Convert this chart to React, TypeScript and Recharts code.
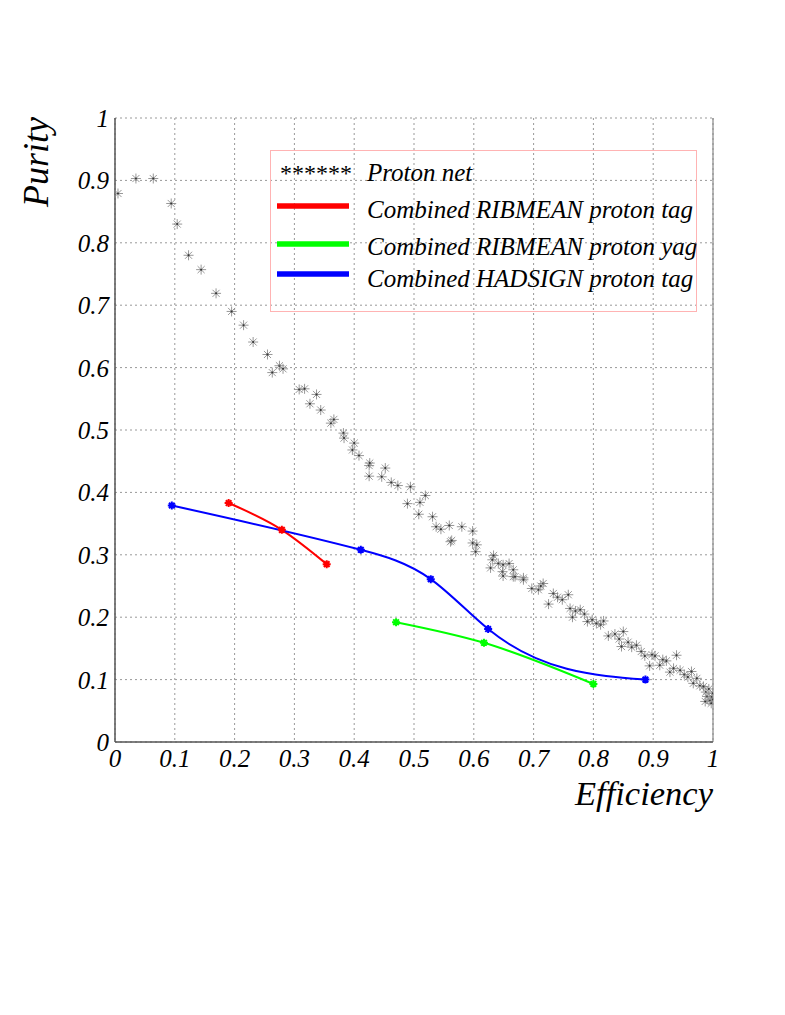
import React from 'react';
import {
  ComposedChart,
  Scatter,
  Line,
  XAxis,
  YAxis,
  CartesianGrid,
  ReferenceLine,
} from 'recharts';

// Proton net scan: [efficiency, purity]
const protonNet: [number, number][] = [
  [0.005, 0.879], [0.035, 0.903], [0.064, 0.903], [0.094, 0.863], [0.104, 0.83],
  [0.123, 0.78], [0.144, 0.757], [0.169, 0.719], [0.195, 0.69], [0.215, 0.668],
  [0.231, 0.641], [0.255, 0.621], [0.263, 0.592], [0.275, 0.603], [0.281, 0.598],
  [0.308, 0.565], [0.317, 0.566], [0.326, 0.542], [0.337, 0.557], [0.344, 0.532],
  [0.361, 0.511], [0.366, 0.517], [0.382, 0.495], [0.383, 0.487], [0.397, 0.468],
  [0.4, 0.479], [0.408, 0.459], [0.425, 0.443], [0.426, 0.447], [0.425, 0.426],
  [0.446, 0.425], [0.452, 0.439], [0.462, 0.416], [0.473, 0.411], [0.489, 0.382],
  [0.494, 0.409], [0.508, 0.365], [0.51, 0.384], [0.519, 0.395], [0.531, 0.361],
  [0.537, 0.345], [0.545, 0.341], [0.559, 0.347], [0.561, 0.321], [0.563, 0.323],
  [0.58, 0.345], [0.598, 0.338], [0.598, 0.319], [0.603, 0.305], [0.605, 0.316],
  [0.628, 0.279], [0.631, 0.292], [0.633, 0.299], [0.641, 0.286], [0.648, 0.273],
  [0.649, 0.284], [0.649, 0.266], [0.659, 0.286], [0.666, 0.276], [0.666, 0.265],
  [0.669, 0.265], [0.683, 0.263], [0.683, 0.26], [0.697, 0.246], [0.708, 0.244],
  [0.716, 0.254], [0.712, 0.25], [0.725, 0.221], [0.733, 0.238], [0.74, 0.232],
  [0.748, 0.228], [0.758, 0.236], [0.761, 0.214], [0.765, 0.2], [0.77, 0.21],
  [0.778, 0.212], [0.785, 0.205], [0.79, 0.193], [0.798, 0.196], [0.805, 0.19],
  [0.812, 0.188], [0.817, 0.194], [0.825, 0.17], [0.836, 0.173], [0.843, 0.165],
  [0.847, 0.153], [0.85, 0.177], [0.858, 0.16], [0.864, 0.152], [0.872, 0.155],
  [0.88, 0.145], [0.886, 0.138], [0.894, 0.122], [0.898, 0.14], [0.903, 0.138],
  [0.911, 0.123], [0.916, 0.132], [0.922, 0.13], [0.928, 0.112], [0.934, 0.118],
  [0.939, 0.139], [0.945, 0.115], [0.952, 0.108], [0.958, 0.104], [0.964, 0.113],
  [0.967, 0.094], [0.973, 0.102], [0.978, 0.09], [0.984, 0.089], [0.987, 0.065],
  [0.988, 0.08], [0.99, 0.073], [0.993, 0.085], [0.995, 0.067], [0.997, 0.062],
  [0.998, 0.072], [1.0, 0.078], [1.0, 0.068],
];

const ribmeanTagEff = [0.19, 0.279, 0.354];
const ribmeanTagPur = [0.383, 0.34, 0.285];

const ribmeanYagEff = [0.47, 0.617, 0.8];
const ribmeanYagPur = [0.192, 0.159, 0.093];

const hadsignEff = [0.095, 0.411, 0.528, 0.624, 0.887];
const hadsignPur = [0.379, 0.308, 0.261, 0.181, 0.1];

const ticks = [0, 0.1, 0.2, 0.3, 0.4, 0.5, 0.6, 0.7, 0.8, 0.9, 1];

const legendNames = [
  'Proton net',
  'Combined RIBMEAN proton tag',
  'Combined RIBMEAN proton yag',
  'Combined HADSIGN proton tag',
];

const toPoints = (xs: number[], ys: number[]) => xs.map((x, i) => ({ x, y: ys[i] }));

const protonData = protonNet.map(([x, y]) => ({ x, y }));
const redData = toPoints(ribmeanTagEff, ribmeanTagPur);
const greenData = toPoints(ribmeanYagEff, ribmeanYagPur);
const blueData = toPoints(hadsignEff, hadsignPur);

const FONT = 'Liberation Serif, Times New Roman, DejaVu Serif, serif';

const fmt = (v: number) => (v === 0 ? '0' : v === 1 ? '1' : String(v));

// natural cubic spline y(x), like the smoothed graphs of the original plot
const splineCurve = (context: any) => {
  let xs: number[] = [];
  let ys: number[] = [];
  return {
    areaStart() {},
    areaEnd() {},
    lineStart() {
      xs = [];
      ys = [];
    },
    point(x: number, y: number) {
      xs.push(+x);
      ys.push(+y);
    },
    lineEnd() {
      const n = xs.length;
      if (n === 0) return;
      context.moveTo(xs[0], ys[0]);
      if (n < 3) {
        for (let i = 1; i < n; i++) context.lineTo(xs[i], ys[i]);
        return;
      }
      const h: number[] = [];
      for (let i = 0; i < n - 1; i++) h.push(xs[i + 1] - xs[i]);
      const M = new Array(n).fill(0);
      const a: number[] = [], b: number[] = [], c: number[] = [], r: number[] = [];
      for (let i = 1; i < n - 1; i++) {
        a.push(h[i - 1]);
        b.push(2 * (h[i - 1] + h[i]));
        c.push(h[i]);
        r.push(6 * ((ys[i + 1] - ys[i]) / h[i] - (ys[i] - ys[i - 1]) / h[i - 1]));
      }
      const m = b.length;
      for (let i = 1; i < m; i++) {
        const w = a[i] / b[i - 1];
        b[i] -= w * c[i - 1];
        r[i] -= w * r[i - 1];
      }
      const sol = new Array(m).fill(0);
      sol[m - 1] = r[m - 1] / b[m - 1];
      for (let i = m - 2; i >= 0; i--) sol[i] = (r[i] - c[i] * sol[i + 1]) / b[i];
      for (let i = 0; i < m; i++) M[i + 1] = sol[i];
      for (let i = 0; i < n - 1; i++) {
        const hi = h[i];
        const s = (ys[i + 1] - ys[i]) / hi;
        const d0 = s - (hi * (2 * M[i] + M[i + 1])) / 6;
        const d1 = s + (hi * (M[i] + 2 * M[i + 1])) / 6;
        context.bezierCurveTo(
          xs[i] + hi / 3,
          ys[i] + (d0 * hi) / 3,
          xs[i + 1] - hi / 3,
          ys[i + 1] - (d1 * hi) / 3,
          xs[i + 1],
          ys[i + 1],
        );
      }
    },
  };
};

const asteriskPath = (cx: number, cy: number, r: number) => {
  const d = r * 0.707;
  return `M${cx - r},${cy}H${cx + r}M${cx},${cy - r}V${cy + r}M${cx - d},${cy - d}L${cx + d},${cy + d}M${cx - d},${cy + d}L${cx + d},${cy - d}`;
};

const GreyStar = (props: any) => {
  const { cx, cy } = props;
  if (cx == null || cy == null) return null;
  return (
    <g>
      <path d={asteriskPath(cx, cy, 5)} stroke="#8c8c8c" strokeWidth={0.9} fill="none" />
      <circle cx={cx} cy={cy} r={1} fill="#333" />
    </g>
  );
};

const makeDot = (color: string) => (props: any) => {
  const { cx, cy, index } = props;
  if (cx == null || cy == null) return <g key={index} />;
  return (
    <g key={index}>
      <path d={asteriskPath(cx, cy, 4)} stroke={color} strokeWidth={2} fill="none" />
      <rect x={cx - 2} y={cy - 2} width={4} height={4} fill={color} />
    </g>
  );
};

const textStyle = { fontFamily: FONT, fontStyle: 'italic' as const };

const XTick = (props: any) => {
  const { x, y, payload } = props;
  return (
    <text x={x} y={y} dy={17} textAnchor="middle" fontSize={25} fill="#000" style={textStyle}>
      {fmt(payload.value)}
    </text>
  );
};

const YTick = (props: any) => {
  const { x, y, payload } = props;
  return (
    <text x={x + 2} y={y} dy={9} textAnchor="end" fontSize={25} fill="#000" style={textStyle}>
      {fmt(payload.value)}
    </text>
  );
};

const LegendBox = () => {
  const lineColors = ['#ff0000', '#00ff00', '#0000ff'];
  const baselines = [31, 68, 105, 137];
  const lineY = [56, 94, 124];
  return (
    <svg
      width={428}
      height={164}
      style={{ position: 'absolute', left: 262, top: 142, overflow: 'visible' }}
    >
      <rect x={0.5} y={0.5} width={426} height={161} fill="none" stroke="#ffb3b3" strokeWidth={1} />
      <text x={10} y={baselines[0]} fontSize={24} fill="#000" style={{ fontFamily: FONT }}>
        ******
      </text>
      {lineColors.map((c, i) => (
        <line key={c} x1={7} x2={79} y1={lineY[i]} y2={lineY[i]} stroke={c} strokeWidth={5.5} />
      ))}
      {legendNames.map((name, i) => (
        <text key={name} x={97} y={baselines[i]} fontSize={25} fill="#000" style={textStyle}>
          {name}
        </text>
      ))}
    </svg>
  );
};

export default function App() {
  return (
    <div style={{ position: 'relative', width: 777, height: 900, background: '#fff' }}>
      <ComposedChart width={777} height={900} margin={{ top: 110, right: 72, bottom: 86, left: 47 }}>
        <CartesianGrid stroke="#999" strokeDasharray="2 3" strokeWidth={1} />
        <XAxis
          type="number"
          dataKey="x"
          domain={[0, 1]}
          ticks={ticks}
          height={80}
          allowDataOverflow
          axisLine={{ stroke: '#555', strokeWidth: 1.5 }}
          tickLine={false}
          tick={<XTick />}
          label={{
            content: () => (
              <text
                x={705}
                y={797}
                textAnchor="end"
                fontSize={34}
                textLength={138}
                lengthAdjust="spacingAndGlyphs"
                fill="#000"
                style={textStyle}
              >
                Efficiency
              </text>
            ),
          }}
        />
        <YAxis
          type="number"
          dataKey="y"
          domain={[0, 1]}
          ticks={ticks}
          width={60}
          allowDataOverflow
          axisLine={{ stroke: '#555', strokeWidth: 1.5 }}
          tickLine={false}
          tick={<YTick />}
          label={{
            content: () => (
              <text
                x={40}
                y={154}
                textAnchor="middle"
                transform="rotate(-90 40 154)"
                fontSize={36}
                fill="#000"
                style={textStyle}
              >
                Purity
              </text>
            ),
          }}
        />
        <ReferenceLine x={1} stroke="#888" strokeWidth={1.2} />
        <Scatter name="Proton net" data={protonData} fill="#8c8c8c" shape={GreyStar} isAnimationActive={false} />
        <Line
          name={legendNames[1]}
          data={redData}
          dataKey="y"
          type={splineCurve as any}
          stroke="#ff0000"
          strokeWidth={2}
          dot={makeDot('#ff0000')}
          isAnimationActive={false}
        />
        <Line
          name={legendNames[2]}
          data={greenData}
          dataKey="y"
          type={splineCurve as any}
          stroke="#00ff00"
          strokeWidth={2}
          dot={makeDot('#00ff00')}
          isAnimationActive={false}
        />
        <Line
          name={legendNames[3]}
          data={blueData}
          dataKey="y"
          type={splineCurve as any}
          stroke="#0000ff"
          strokeWidth={2}
          dot={makeDot('#0000ff')}
          isAnimationActive={false}
        />
      </ComposedChart>
      <LegendBox />
    </div>
  );
}
